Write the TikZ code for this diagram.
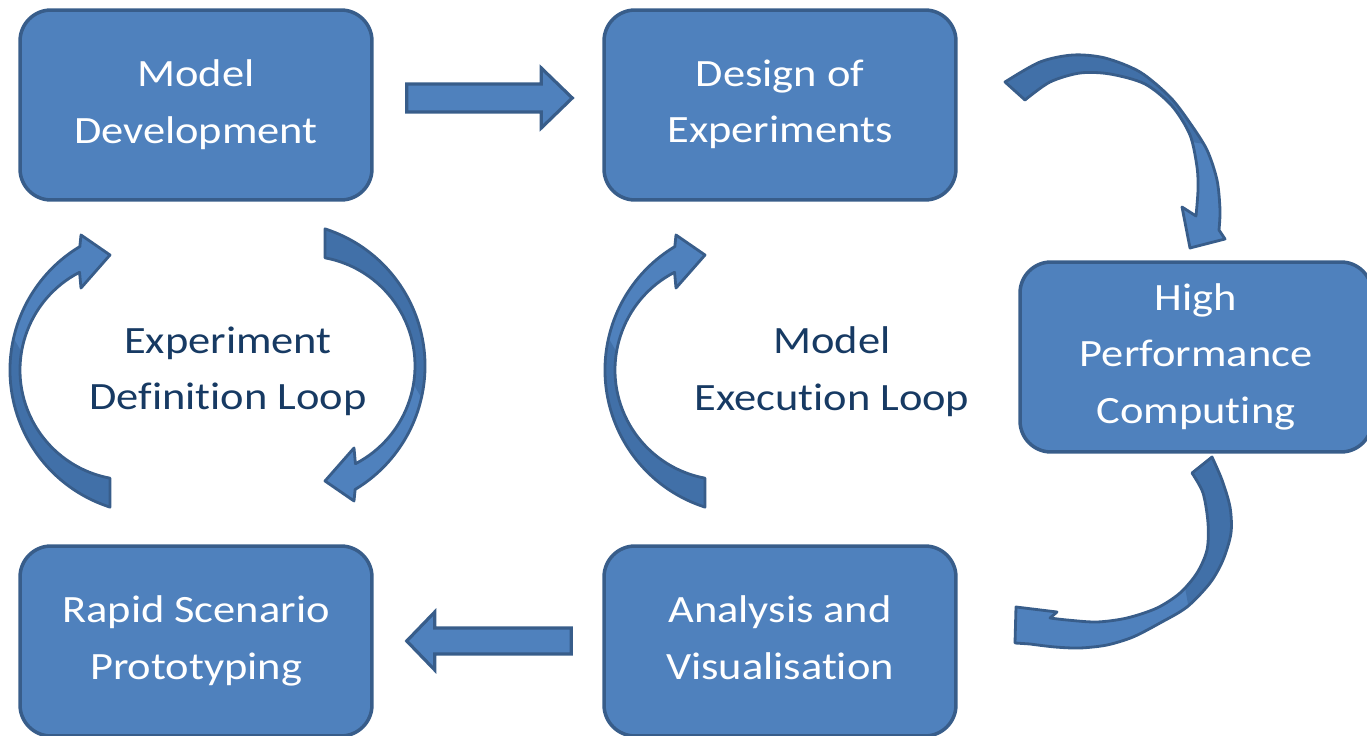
\documentclass[tikz,border=0pt]{standalone}
\usepackage{fontspec}
\setmainfont{Carlito}[FakeStretch=1.15, Ligatures=NoCommon]
\usetikzlibrary{calc}

\definecolor{boxfill}{HTML}{4F81BD}
\definecolor{boxline}{HTML}{385D8A}
\definecolor{bentshade}{HTML}{4170A8}
\definecolor{loopblue}{HTML}{173A63}

\newcommand{\diagfont}{\fontsize{22}{32}\selectfont}
\newcommand{\linestrut}{\rule[-4pt]{0pt}{40pt}}

\begin{document}
\begin{tikzpicture}[x=0.02cm, y=-0.02cm,
  stage/.style={draw=boxline, line width=2pt, fill=boxfill, rounded corners=0.62cm,
    minimum width=7.04cm, minimum height=3.8cm, text=white, align=center, font=\diagfont,
    execute at begin node=\linestrut, execute at end node=\linestrut},
  looplabel/.style={text=loopblue, align=center, font=\diagfont,
    execute at begin node=\linestrut, execute at end node=\linestrut},
  flatarrow/.style={draw=boxline, line width=1.8pt, fill=boxfill},
  bentfill/.style={fill=boxfill},
  bentdark/.style={fill=bentshade},
  bentline/.style={draw=boxline, line width=1.6pt, line join=round}]

\useasboundingbox (0,0) rectangle (1367,736);

% Stages
\node[stage] (md) at (196,105) {Model\\Development};
\node[stage] (de) at (780,105) {Design of\\Experiments};
\node[stage] (hpc) at (1196,357) {High\\Performance\\Computing};
\node[stage] (av) at (780,641) {Analysis and\\Visualisation};
\node[stage] (rsp) at (196,641) {Rapid Scenario\\Prototyping};

% Loop labels
\node[looplabel] (edl) at (228,372) {Experiment\\Definition Loop};
\node[looplabel] (mel) at (832,372) {Model\\Execution Loop};

% Straight arrows
\coordinate (fwdtail) at ($(md.east)+(33,-7)$);
\coordinate (fwdtip) at ($(de.west)+(-30,-7)$);
\draw[flatarrow] ($(fwdtail)+(0,-14)$) -- ($(fwdtip)+(-31,-14)$) -- ($(fwdtip)+(-31,-30)$)
  -- (fwdtip) -- ($(fwdtip)+(-31,30)$) -- ($(fwdtip)+(-31,14)$) -- ($(fwdtail)+(0,14)$) -- cycle;

\coordinate (backtail) at ($(av.west)+(-31,0)$);
\coordinate (backtip) at ($(rsp.east)+(33,0)$);
\draw[flatarrow] ($(backtail)+(0,-13)$) -- ($(backtip)+(28,-13)$) -- ($(backtip)+(28,-29)$)
  -- (backtip) -- ($(backtip)+(28,29)$) -- ($(backtip)+(28,13)$) -- ($(backtail)+(0,13)$) -- cycle;

% Experiment definition loop, left side (up)
\def\bentA{($(154,370)+(107.8:144)$) arc[start angle=107.8, end angle=239, radius=144]
  -- (81,235) -- (110,255) -- (81,288)
  -- ($(130,370)+(242.7:110)$) arc[start angle=242.7, end angle=100.5, radius=110] -- cycle}
\fill[bentfill] \bentA;
\begin{scope}
  \clip \bentA;
  \fill[bentdark] (0,315) -- (35,375) -- (140,470) -- (140,520) -- (0,520) -- cycle;
\end{scope}
\draw[bentline] \bentA;

% Experiment definition loop, right side (down)
\def\bentC{($(281,366)+(287.8:144)$) arc[start angle=287.8, end angle=419, radius=144]
  -- (354,501) -- (325,481) -- (354,448)
  -- ($(305,366)+(422.7:110)$) arc[start angle=422.7, end angle=280.5, radius=110] -- cycle}
\fill[bentfill] \bentC;
\begin{scope}
  \clip \bentC;
  \fill[bentdark] (435,421) -- (400,361) -- (295,266) -- (295,216) -- (435,216) -- cycle;
\end{scope}
\draw[bentline] \bentC;

% Model execution loop, left side (up)
\def\bentB{($(749,370)+(107.8:144)$) arc[start angle=107.8, end angle=239, radius=144]
  -- (676,235) -- (705,255) -- (676,288)
  -- ($(725,370)+(242.7:110)$) arc[start angle=242.7, end angle=100.5, radius=110] -- cycle}
\fill[bentfill] \bentB;
\begin{scope}
  \clip \bentB;
  \fill[bentdark] (595,315) -- (630,375) -- (735,470) -- (735,520) -- (595,520) -- cycle;
\end{scope}
\draw[bentline] \bentB;

% Design of experiments -> HPC
\def\bentD{plot[smooth] coordinates {(1005,82) (1040,62) (1073,55) (1105,58) (1140,72)
    (1170,97) (1190,123) (1207,150) (1217,180) (1220,210) (1219,230)}
  -- (1225,239) -- (1190,248) -- (1182,207)
  -- plot[smooth] coordinates {(1196,216) (1198,190) (1197,167) (1190,135) (1172,106)
    (1145,84) (1110,74) (1080,73) (1050,82) (1025,100)} -- cycle}
\fill[bentfill] \bentD;
\begin{scope}
  \clip \bentD;
  \fill[bentdark] (990,30) -- (1175,30) -- (1240,150) -- (1180,140) -- (1100,95) -- (990,130) -- cycle;
\end{scope}
\draw[bentline] \bentD;

% HPC -> analysis
\def\bentE{plot[smooth] coordinates {(1212,457) (1222,480) (1230,507) (1231,533) (1223,560)
    (1210,583) (1187,607) (1160,623) (1133,637) (1107,645) (1080,648) (1055,647) (1030,644)}
  -- (1015,643) -- (1016,607) -- (1057,612)
  -- plot[smooth] coordinates {(1050,618) (1067,620) (1097,622) (1127,618) (1157,608)
    (1180,593) (1197,573) (1207,550) (1208,523) (1203,493) (1192,473)} -- cycle}
\fill[bentfill] \bentE;
\begin{scope}
  \clip \bentE;
  \fill[bentdark] (1170,440) -- (1250,440) -- (1250,600) -- (1190,615) -- (1180,560) -- cycle;
\end{scope}
\draw[bentline] \bentE;
\end{tikzpicture}
\end{document}
